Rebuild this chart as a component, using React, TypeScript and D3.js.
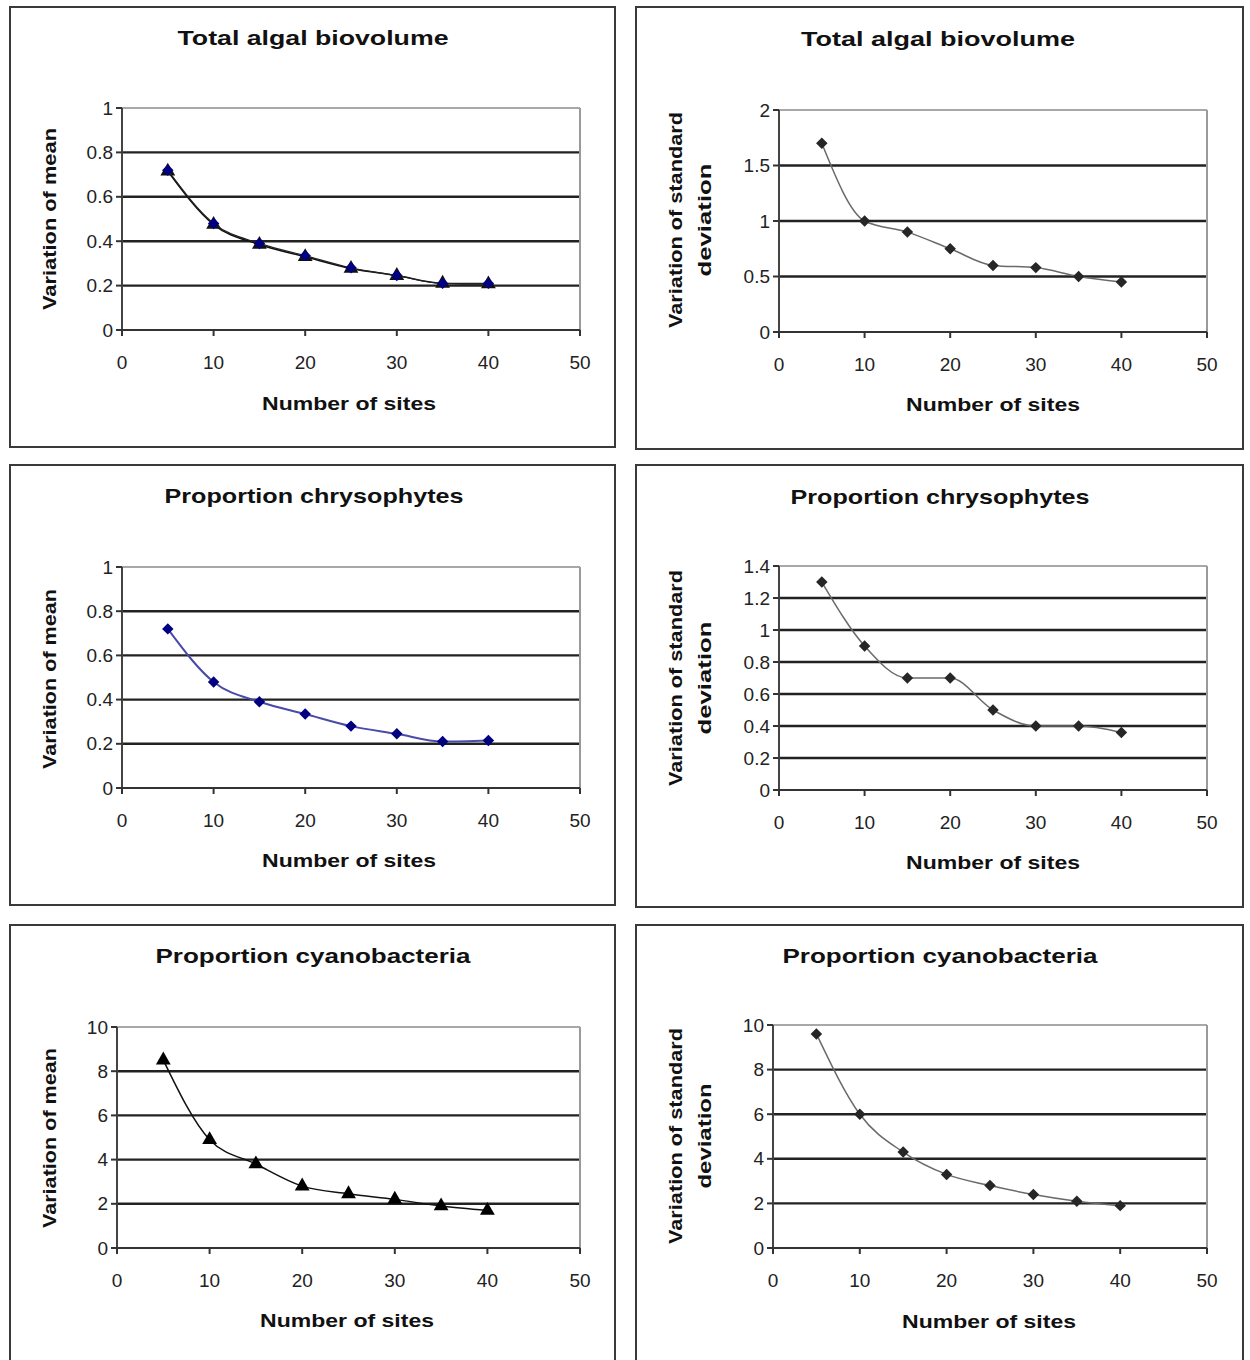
import React from "react";
import * as d3 from "d3";

// ---------- data ----------
const sites = [5, 10, 15, 20, 25, 30, 35, 40];
const xTicks = [0, 10, 20, 30, 40, 50];

const totalMean = [0.72, 0.48, 0.39, 0.335, 0.28, 0.245, 0.21, 0.21];
const totalMeanAlt = [0.715, 0.475, 0.385, 0.33, 0.277, 0.245, 0.21, 0.207];
const totalSD = [1.7, 1.0, 0.9, 0.75, 0.6, 0.58, 0.5, 0.45];
const chrysMean = [0.72, 0.48, 0.39, 0.335, 0.28, 0.245, 0.21, 0.215];
const chrysSD = [1.3, 0.9, 0.7, 0.7, 0.5, 0.4, 0.4, 0.36];
const cyanoMean = [8.5, 4.9, 3.8, 2.8, 2.45, 2.2, 1.9, 1.7];
const cyanoSD = [9.6, 6.0, 4.3, 3.3, 2.8, 2.4, 2.1, 1.9];

const ticksMean01 = [0, 0.2, 0.4, 0.6, 0.8, 1];
const ticksSDTotal = [0, 0.5, 1, 1.5, 2];
const ticksSDChrys = [0, 0.2, 0.4, 0.6, 0.8, 1, 1.2, 1.4];
const ticksCyano = [0, 2, 4, 6, 8, 10];

const titles = ["Total algal biovolume", "Proportion chrysophytes", "Proportion cyanobacteria"];
const xTitle = "Number of sites";
const yTitleMean = ["Variation of mean"];
const yTitleSD = ["Variation of standard", "deviation"];

// ---------- layout / style ----------
type Series = { values: number[]; marker: "diamond" | "triangle"; line: string; lw: number; fill: string };
type Panel = {
  frame: [number, number, number, number];
  plot: { x0: number; x1: number; yTop: number; yBot: number };
  yMax: number;
  yTicks: number[];
  title: string;
  titleX: number; titleY: number; titleLen: number;
  xTitleX: number; xTitleY: number;
  yTitle: string[]; yTitleXs: number[]; yTitleY: number; yTitleLens: number[];
  series: Series[];
};

const grayLine = "#6a6a6a";
const darkMarker = "#262626";

const panels: Panel[] = [
  {
    frame: [10, 7, 605, 440],
    plot: { x0: 122, x1: 580, yTop: 108, yBot: 330 },
    yMax: 1, yTicks: ticksMean01,
    title: titles[0], titleX: 313, titleY: 37, titleLen: 271,
    xTitleX: 349, xTitleY: 404,
    yTitle: yTitleMean, yTitleXs: [50], yTitleY: 219, yTitleLens: [182],
    series: [
      { values: totalMeanAlt, marker: "triangle", line: "#111", lw: 1.5, fill: "#111" },
      { values: totalMean, marker: "diamond", line: "#222", lw: 1.2, fill: "#000080" },
    ],
  },
  {
    frame: [636, 7, 607, 442],
    plot: { x0: 779, x1: 1207, yTop: 110, yBot: 332 },
    yMax: 2, yTicks: ticksSDTotal,
    title: titles[0], titleX: 938, titleY: 38, titleLen: 274,
    xTitleX: 993, xTitleY: 405,
    yTitle: yTitleSD, yTitleXs: [676, 705], yTitleY: 220, yTitleLens: [216, 113],
    series: [{ values: totalSD, marker: "diamond", line: grayLine, lw: 1.5, fill: darkMarker }],
  },
  {
    frame: [10, 465, 605, 440],
    plot: { x0: 122, x1: 580, yTop: 567, yBot: 788 },
    yMax: 1, yTicks: ticksMean01,
    title: titles[1], titleX: 314, titleY: 495, titleLen: 299,
    xTitleX: 349, xTitleY: 861,
    yTitle: yTitleMean, yTitleXs: [50], yTitleY: 679, yTitleLens: [180],
    series: [{ values: chrysMean, marker: "diamond", line: "#4a4aa8", lw: 2, fill: "#000080" }],
  },
  {
    frame: [636, 465, 607, 442],
    plot: { x0: 779, x1: 1207, yTop: 566, yBot: 790 },
    yMax: 1.4, yTicks: ticksSDChrys,
    title: titles[1], titleX: 940, titleY: 496, titleLen: 299,
    xTitleX: 993, xTitleY: 863,
    yTitle: yTitleSD, yTitleXs: [676, 705], yTitleY: 678, yTitleLens: [216, 113],
    series: [{ values: chrysSD, marker: "diamond", line: grayLine, lw: 1.5, fill: darkMarker }],
  },
  {
    frame: [10, 925, 605, 445],
    plot: { x0: 117, x1: 580, yTop: 1027, yBot: 1248 },
    yMax: 10, yTicks: ticksCyano,
    title: titles[2], titleX: 313, titleY: 955, titleLen: 315,
    xTitleX: 347, xTitleY: 1321,
    yTitle: yTitleMean, yTitleXs: [50], yTitleY: 1138, yTitleLens: [180],
    series: [{ values: cyanoMean, marker: "triangle", line: "#111", lw: 1.5, fill: "#000" }],
  },
  {
    frame: [636, 925, 607, 445],
    plot: { x0: 773, x1: 1207, yTop: 1025, yBot: 1248 },
    yMax: 10, yTicks: ticksCyano,
    title: titles[2], titleX: 940, titleY: 955, titleLen: 315,
    xTitleX: 989, xTitleY: 1322,
    yTitle: yTitleSD, yTitleXs: [676, 705], yTitleY: 1136, yTitleLens: [216, 105],
    series: [{ values: cyanoSD, marker: "diamond", line: grayLine, lw: 1.5, fill: darkMarker }],
  },
];

const font = "'Liberation Sans', Arial, sans-serif";
const diamondPath = d3.symbol(d3.symbolSquare, 66)()!;
const trianglePath = d3.symbol(d3.symbolTriangle, 95)()!;

function ChartPanel({ p }: { p: Panel }) {
  const x = d3.scaleLinear().domain([0, 50]).range([p.plot.x0, p.plot.x1]);
  const y = d3.scaleLinear().domain([0, p.yMax]).range([p.plot.yBot, p.plot.yTop]);
  const [fx, fy, fw, fh] = p.frame;
  const line = d3
    .line<number>()
    .x((_, i) => x(sites[i]))
    .y((v) => y(v))
    .curve(d3.curveMonotoneX);

  return (
    <g>
      <rect x={fx} y={fy} width={fw} height={fh} fill="#fff" stroke="#3a3a3a" strokeWidth={2} />
      {/* gridlines */}
      {p.yTicks.filter((t) => t > 0 && t < p.yMax).map((t) => (
        <line key={"g" + t} x1={p.plot.x0} x2={p.plot.x1} y1={y(t)} y2={y(t)} stroke="#222" strokeWidth={2.4} />
      ))}
      {/* plot frame top/right */}
      <line x1={p.plot.x0} x2={p.plot.x1} y1={y(p.yMax)} y2={y(p.yMax)} stroke="#a8a8a8" strokeWidth={2} />
      <line x1={p.plot.x1} x2={p.plot.x1} y1={p.plot.yTop} y2={p.plot.yBot} stroke="#9a9a9a" strokeWidth={2} />
      {/* axes */}
      <line x1={p.plot.x0} x2={p.plot.x0} y1={p.plot.yTop} y2={p.plot.yBot} stroke="#444" strokeWidth={2} />
      <line x1={p.plot.x0} x2={p.plot.x1} y1={p.plot.yBot} y2={p.plot.yBot} stroke="#333" strokeWidth={2.2} />
      {p.yTicks.map((t) => (
        <g key={"yt" + t}>
          <line x1={p.plot.x0 - 6} x2={p.plot.x0} y1={y(t)} y2={y(t)} stroke="#333" strokeWidth={2} />
          <text x={p.plot.x0 - 9} y={y(t)} textAnchor="end" dominantBaseline="central" fontSize={19} fill="#222" fontFamily={font}>
            {String(t)}
          </text>
        </g>
      ))}
      {xTicks.map((t) => (
        <g key={"xt" + t}>
          <line x1={x(t)} x2={x(t)} y1={p.plot.yBot} y2={p.plot.yBot + 6} stroke="#333" strokeWidth={2} />
          <text x={x(t)} y={p.plot.yBot + 32} textAnchor="middle" dominantBaseline="central" fontSize={19} fill="#222" fontFamily={font}>
            {String(t)}
          </text>
        </g>
      ))}
      {/* series */}
      {p.series.map((s, si) => (
        <g key={"s" + si}>
          <path d={line(s.values)!} fill="none" stroke={s.line} strokeWidth={s.lw} />
          {s.values.map((v, i) => (
            <path
              key={i}
              d={s.marker === "diamond" ? diamondPath : trianglePath}
              transform={`translate(${x(sites[i])},${y(v)})${s.marker === "diamond" ? " rotate(45)" : ""}`}
              fill={s.fill}
            />
          ))}
        </g>
      ))}
      {/* titles */}
      <text x={p.titleX} y={p.titleY} textAnchor="middle" dominantBaseline="central" fontSize={21} fontWeight="bold" fill="#111" fontFamily={font} textLength={p.titleLen} lengthAdjust="spacingAndGlyphs">
        {p.title}
      </text>
      <text x={p.xTitleX} y={p.xTitleY} textAnchor="middle" dominantBaseline="central" fontSize={18} fontWeight="bold" fill="#111" fontFamily={font} textLength={174} lengthAdjust="spacingAndGlyphs">
        {xTitle}
      </text>
      {p.yTitle.map((t, i) => (
        <text
          key={"yl" + i}
          transform={`translate(${p.yTitleXs[i]},${p.yTitleY}) rotate(-90)`}
          textAnchor="middle"
          dominantBaseline="central"
          fontSize={18}
          fontWeight="bold"
          fill="#111"
          fontFamily={font}
          textLength={p.yTitleLens[i]}
          lengthAdjust="spacingAndGlyphs"
        >
          {t}
        </text>
      ))}
    </g>
  );
}

export default function App() {
  return (
    <svg width={1250} height={1360} style={{ position: "absolute", left: 0, top: 0, background: "#fff" }}>
      <rect x={0} y={0} width={1250} height={1360} fill="#fff" />
      {panels.map((p, i) => (
        <ChartPanel key={i} p={p} />
      ))}
    </svg>
  );
}
